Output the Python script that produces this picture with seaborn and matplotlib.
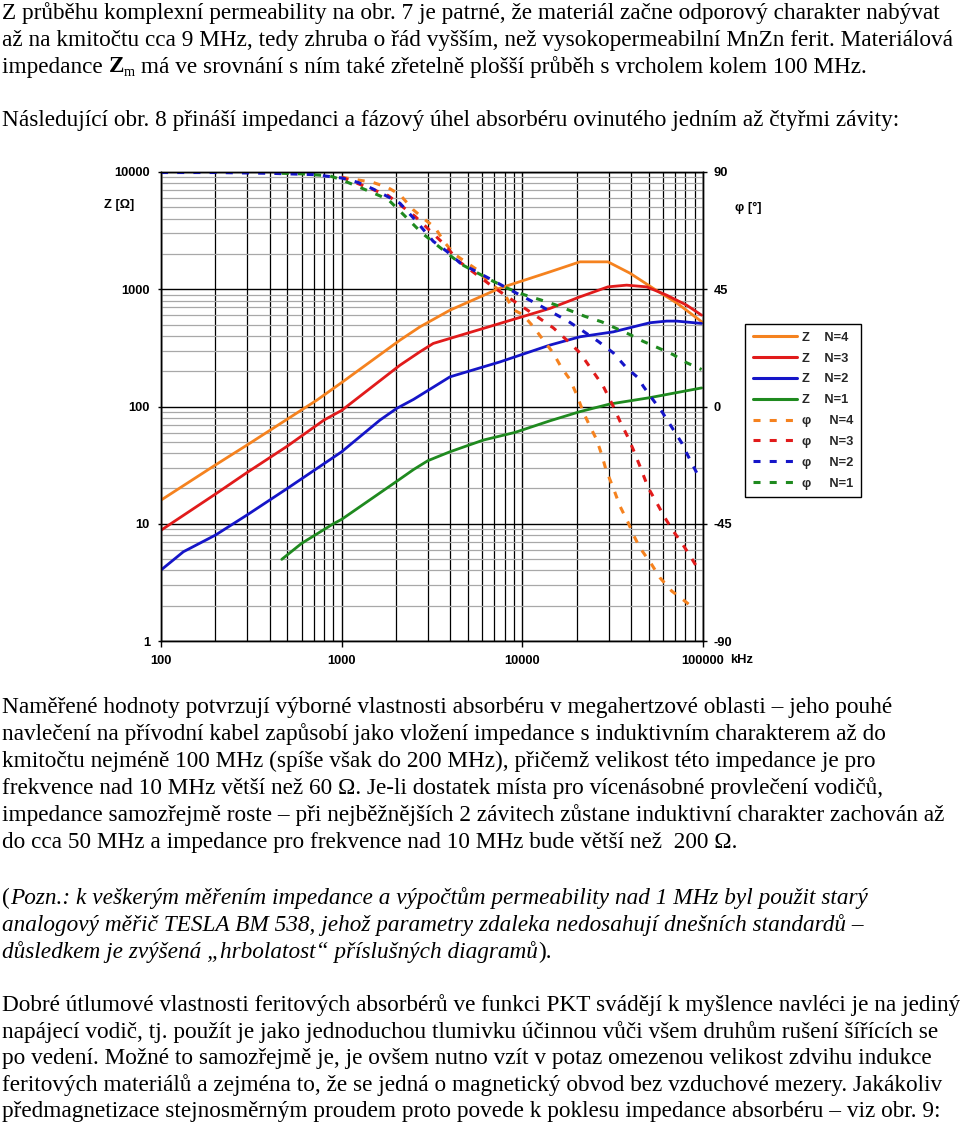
import numpy as np
import pandas as pd
import matplotlib
matplotlib.use("Agg")
import matplotlib.pyplot as plt
import seaborn as sns
from matplotlib.ticker import LogLocator, NullFormatter
from matplotlib.lines import Line2D

# ---------------- data ----------------
freq_z4 = [100, 200, 300, 500, 727, 1000, 2102, 2713, 3975, 7516, 14215, 20833, 29769, 39392, 52815, 71700, 98600]
z_n4 = [15.9, 31.7, 47, 78, 113, 160, 368, 478, 663, 1022, 1407, 1713, 1713, 1372, 1022, 762, 527]

freq_z3 = [100, 200, 300, 500, 798, 1000, 2102, 2713, 3213, 7516, 14215, 20833, 29769, 37774, 48746, 62886, 81170, 98220]
z_n3 = [8.8, 17.9, 27.4, 45.9, 76.6, 92.6, 225, 293, 345, 511, 686, 861, 1048, 1084, 1048, 891, 732, 601]

freq_z2 = [100, 133, 200, 300, 500, 1000, 1629, 2016, 2500, 3975, 7516, 14215, 20833, 31845, 50833, 62886, 71430, 98220]
z_n2 = [4.03, 5.77, 8.0, 11.9, 20.0, 41.1, 76.6, 96.3, 115, 179, 240, 334, 393, 433, 518, 535, 535, 511]

freq_z1 = [466, 600, 900, 1000, 2016, 2500, 3000, 3975, 6079, 9101, 14215, 20833, 30539, 50833, 98220]
z_n1 = [4.97, 6.8, 10, 10.9, 23, 29, 34.5, 41.1, 51.7, 60.1, 75.5, 90.4, 105, 119, 144]

freq_p4 = [1000, 1490, 1804, 2102, 2481, 2891, 3283, 3730, 4236, 5587, 6616, 8012, 8872, 10050, 11447, 13001,
           14768, 16502, 18340, 19975, 21643, 23662, 25779, 27475, 29023, 31845, 34682, 38548, 41087, 44752,
           51945, 57745, 67035, 79432, 90250]
phi_n4 = [88, 86, 84, 81.3, 75.6, 71.7, 68.7, 62.8, 58.3, 52.6, 47.4, 43, 37.2, 35.3, 30.8, 25.7,
          20.7, 14.8, 10.4, 4.6, -1.8, -7.6, -12.7, -18.4, -24.2, -31.2, -38.2, -44.6, -49.1, -54.2,
          -60.6, -65.7, -70.8, -74.7, -77.9]

freq_p3 = [1000, 1804, 2545, 3730, 4400, 5587, 6616, 8188, 9912, 11998, 14825, 17947, 20833, 24180, 28037,
           31845, 34682, 38548, 41087, 44752, 49742, 55368, 61538, 68391, 76128, 84640, 94110]
phi_n3 = [88, 81, 73, 62, 56, 50.6, 46.8, 42.3, 38.5, 34.6, 30.2, 25, 20.6, 14.2, 7.8,
          0.1, -5.6, -12, -16.5, -22.9, -31.2, -36.9, -42.7, -47.8, -52.3, -57.2, -62.5]

freq_p2 = [100, 200, 400, 700, 1000, 1231, 1490, 1804, 2102, 2545, 3213, 3810, 4520, 6740, 8190, 12246,
           14825, 17947, 21727, 26303, 31845, 37774, 43794, 46670, 51945, 59008, 68391, 76128, 82830, 92230]
phi_n2 = [89.8, 89.8, 89.5, 89, 87.7, 86, 83.5, 80.5, 78, 71.7, 63.4, 59.6, 55.1, 48.7, 45.5, 39.1,
          35.9, 32.7, 28.9, 25, 20.6, 14.8, 11, 7.8, 3.3, -1.8, -8.8, -13.9, -19.1, -25.4]

freq_p1 = [466, 600, 862, 1000, 1490, 1804, 2102, 2780, 3810, 4620, 6616, 8188, 10115, 12514, 15150, 18742,
           22203, 27475, 32543, 39392, 46670, 56494, 68391, 81170, 98220]
phi_n1 = [89.5, 89.3, 88.5, 87, 82, 79.5, 75, 66.6, 59, 54.5, 48.7, 45.5, 43, 41, 39.1, 36.6,
          34.6, 32.5, 30.2, 27.6, 25, 22.5, 19.9, 16.8, 14.2]

z_ticks = [1, 10, 100, 1000, 10000]
z_tick_labels = ["1", "10", "100", "1000", "10000"]
phi_ticks = [-90, -45, 0, 45, 90]
phi_tick_labels = ["-90", "-45", "0", "45", "90"]
f_ticks = [100, 1000, 10000, 100000]
f_tick_labels = ["100", "1000", "10000", "100000"]

series_names = ["N=4", "N=3", "N=2", "N=1"]
colors = {"N=4": "#F5821F", "N=3": "#E11B1B", "N=2": "#1515C8", "N=1": "#1F8A1F"}

z_df = pd.concat([
    pd.DataFrame({"f": freq_z4, "v": z_n4, "s": "N=4"}),
    pd.DataFrame({"f": freq_z3, "v": z_n3, "s": "N=3"}),
    pd.DataFrame({"f": freq_z2, "v": z_n2, "s": "N=2"}),
    pd.DataFrame({"f": freq_z1, "v": z_n1, "s": "N=1"}),
])
p_df = pd.concat([
    pd.DataFrame({"f": freq_p4, "v": phi_n4, "s": "N=4"}),
    pd.DataFrame({"f": freq_p3, "v": phi_n3, "s": "N=3"}),
    pd.DataFrame({"f": freq_p2, "v": phi_n2, "s": "N=2"}),
    pd.DataFrame({"f": freq_p1, "v": phi_n1, "s": "N=1"}),
])

para1 = [
    "Z průběhu komplexní permeability na obr. 7 je patrné, že materiál začne odporový charakter nabývat",
    "až na kmitočtu cca 9 MHz, tedy zhruba o řád vyšším, než vysokopermeabilní MnZn ferit. Materiálová",
]
para2 = [
    "Naměřené hodnoty potvrzují výborné vlastnosti absorbéru v megahertzové oblasti – jeho pouhé",
    "navlečení na přívodní kabel zapůsobí jako vložení impedance s induktivním charakterem až do",
    "kmitočtu nejméně 100 MHz (spíše však do 200 MHz), přičemž velikost této impedance je pro",
    "frekvence nad 10 MHz větší než 60 Ω. Je-li dostatek místa pro vícenásobné provlečení vodičů,",
    "impedance samozřejmě roste – při nejběžnějších 2 závitech zůstane induktivní charakter zachován až",
    "do cca 50 MHz a impedance pro frekvence nad 10 MHz bude větší než  200 Ω.",
]
para4 = [
    "Dobré útlumové vlastnosti feritových absorbérů ve funkci PKT svádějí k myšlence navléci je na jediný",
    "napájecí vodič, tj. použít je jako jednoduchou tlumivku účinnou vůči všem druhům rušení šířících se",
    "po vedení. Možné to samozřejmě je, je ovšem nutno vzít v potaz omezenou velikost zdvihu indukce",
    "feritových materiálů a zejména to, že se jedná o magnetický obvod bez vzduchové mezery. Jakákoliv",
    "předmagnetizace stejnosměrným proudem proto povede k poklesu impedance absorbéru – viz obr. 9:",
]

# ---------------- figure ----------------
sns.set_theme(style="white")
plt.rcParams["font.family"] = ["Liberation Sans", "DejaVu Sans"]

W, H = 960, 1127
fig = plt.figure(figsize=(W / 100, H / 100), dpi=100)
fig.patch.set_facecolor("white")

def fx(px):
    return px / W

def fy(py):
    return 1 - py / H

ax = fig.add_axes([fx(161), fy(641), 542 / W, 469 / H])
ax.set_facecolor("white")
ax.set_xscale("log")
ax.set_yscale("log")
ax.set_xlim(100, 100000)
ax.set_ylim(1, 10000)

ax2 = ax.twinx()
ax2.set_ylim(-90, 90)

# grid
for a in (ax.xaxis, ax.yaxis):
    a.set_minor_locator(LogLocator(base=10, subs=np.arange(2, 10), numticks=30))
    a.set_minor_formatter(NullFormatter())
ax.grid(True, which="major", color="black", lw=1.0)
ax.grid(True, which="minor", axis="x", color="black", lw=0.9)
ax.grid(True, which="minor", axis="y", color="#a8a8a8", lw=0.9)
ax.set_axisbelow(True)
ax2.grid(False)

FS = 9.3
tick_font = dict(fontsize=FS, fontweight="bold", color="black")
ax.set_xticks(f_ticks, labels=f_tick_labels, **tick_font)
ax.set_yticks(z_ticks, labels=z_tick_labels, **tick_font)
ax2.set_yticks(phi_ticks, labels=phi_tick_labels, **tick_font)
ax.tick_params(which="minor", length=0)
ax.tick_params(axis="x", which="major", bottom=True, length=4, width=1, color="black", pad=6.0, direction="out")
ax.tick_params(axis="y", which="major", left=True, length=2.5, width=1, color="black", pad=5.5, direction="out")
ax2.tick_params(axis="y", which="major", right=True, length=3, width=1, color="black", pad=4.5, direction="out")
for a in (ax, ax2):
    for sp in a.spines.values():
        sp.set_color("black")
        sp.set_linewidth(1.0)

LW = 2.0
DASH = (0, (2.3, 3.0))
# impedance (solid) and phase (dashed) curves
for name in series_names:
    d = z_df[z_df.s == name]
    sns.lineplot(data=d, x="f", y="v", ax=ax, color=colors[name], lw=LW,
                 estimator=None, sort=False, legend=False)
for name in series_names:
    d = p_df[p_df.s == name]
    sns.lineplot(data=d, x="f", y="v", ax=ax2, color=colors[name], lw=LW + 0.2,
                 linestyle=DASH, estimator=None, sort=False, legend=False)
ax.set_xlabel("")
ax.set_ylabel("")
ax2.set_xlabel("")
ax2.set_ylabel("")
ax.set_xlim(100, 100000)
ax.set_ylim(1, 10000)
ax2.set_ylim(-90, 90)

# axis captions
cap = dict(fontsize=FS, fontweight="bold", color="black", ha="center", va="center")
fig.text(fx(119), fy(205), "Z [Ω]", **cap)
fig.text(fx(748), fy(208), "φ [°]", **cap)
fig.text(fx(742), fy(660), "kHz", **cap)

# legend
handles = []
labels = []
for name in series_names:
    handles.append(Line2D([], [], color=colors[name], lw=LW + 0.2))
    labels.append("Z    " + name)
for name in series_names:
    handles.append(Line2D([], [], color=colors[name], lw=LW + 0.2, linestyle=DASH))
    labels.append("φ     " + name)
leg = fig.legend(handles, labels, loc="upper left", bbox_to_anchor=(fx(745), fy(324)),
                 bbox_transform=fig.transFigure, borderaxespad=0, frameon=True, fancybox=False,
                 edgecolor="black", framealpha=1, handlelength=3.4, handletextpad=0.4,
                 labelspacing=0.68, borderpad=0.6, prop=dict(size=FS, weight="bold"))
leg.get_frame().set_linewidth(1.0)

# ---------------- body text ----------------
renderer = fig.canvas.get_renderer()
SERIF = ["Liberation Serif", "DejaVu Serif"]

def text_width(s, size, **kw):
    t = fig.text(0, 0, "|" + s + "|", fontsize=size, family=SERIF, **kw)
    w1 = t.get_window_extent(renderer).width
    t.set_text("||")
    w2 = t.get_window_extent(renderer).width
    t.remove()
    return w1 - w2

base = 16.0
body = base * 937.0 / text_width(para1[0], base)

def draw_runs(x_px, y_px, runs):
    x = x_px
    for s, kw in runs:
        kw = dict(kw)
        size = body * kw.pop("scale", 1.0)
        dy = kw.pop("dy", 0.0)
        fig.text(fx(x), fy(y_px + dy), s, fontsize=size, family=SERIF, va="baseline", ha="left",
                 color="black", **kw)
        x += text_width(s, size, **kw)

def draw_line(y_px, s, **kw):
    draw_runs(2, y_px, [(s, kw)])

draw_line(19.5, para1[0])
draw_line(46.0, para1[1])
draw_runs(2, 72.5, [("impedance ", {}), ("Z", {"weight": "bold"}),
                    ("m", {"scale": 0.62, "dy": 3.5}),
                    (" má ve srovnání s ním také zřetelně plošší průběh s vrcholem kolem 100 MHz.", {})])
draw_line(126.0, "Následující obr. 8 přináší impedanci a fázový úhel absorbéru ovinutého jedním až čtyřmi závity:")

for i, s in enumerate(para2):
    draw_line(713.0 + 27.0 * i, s)

draw_runs(2, 904.0, [("(", {}), ("Pozn.: k veškerým měřením impedance a výpočtům permeability nad 1 MHz byl použit starý",
                                  {"style": "italic"})])
draw_line(931.0, "analogový měřič TESLA BM 538, jehož parametry zdaleka nedosahují dnešních standardů –", style="italic")
draw_runs(2, 958.0, [("důsledkem je zvýšená „hrbolatost“ příslušných diagramů", {"style": "italic"}), (").", {})])

for i, s in enumerate(para4):
    draw_line(1011.0 + 26.6 * i, s)

fig.savefig("out.png", dpi=100, facecolor="white")
